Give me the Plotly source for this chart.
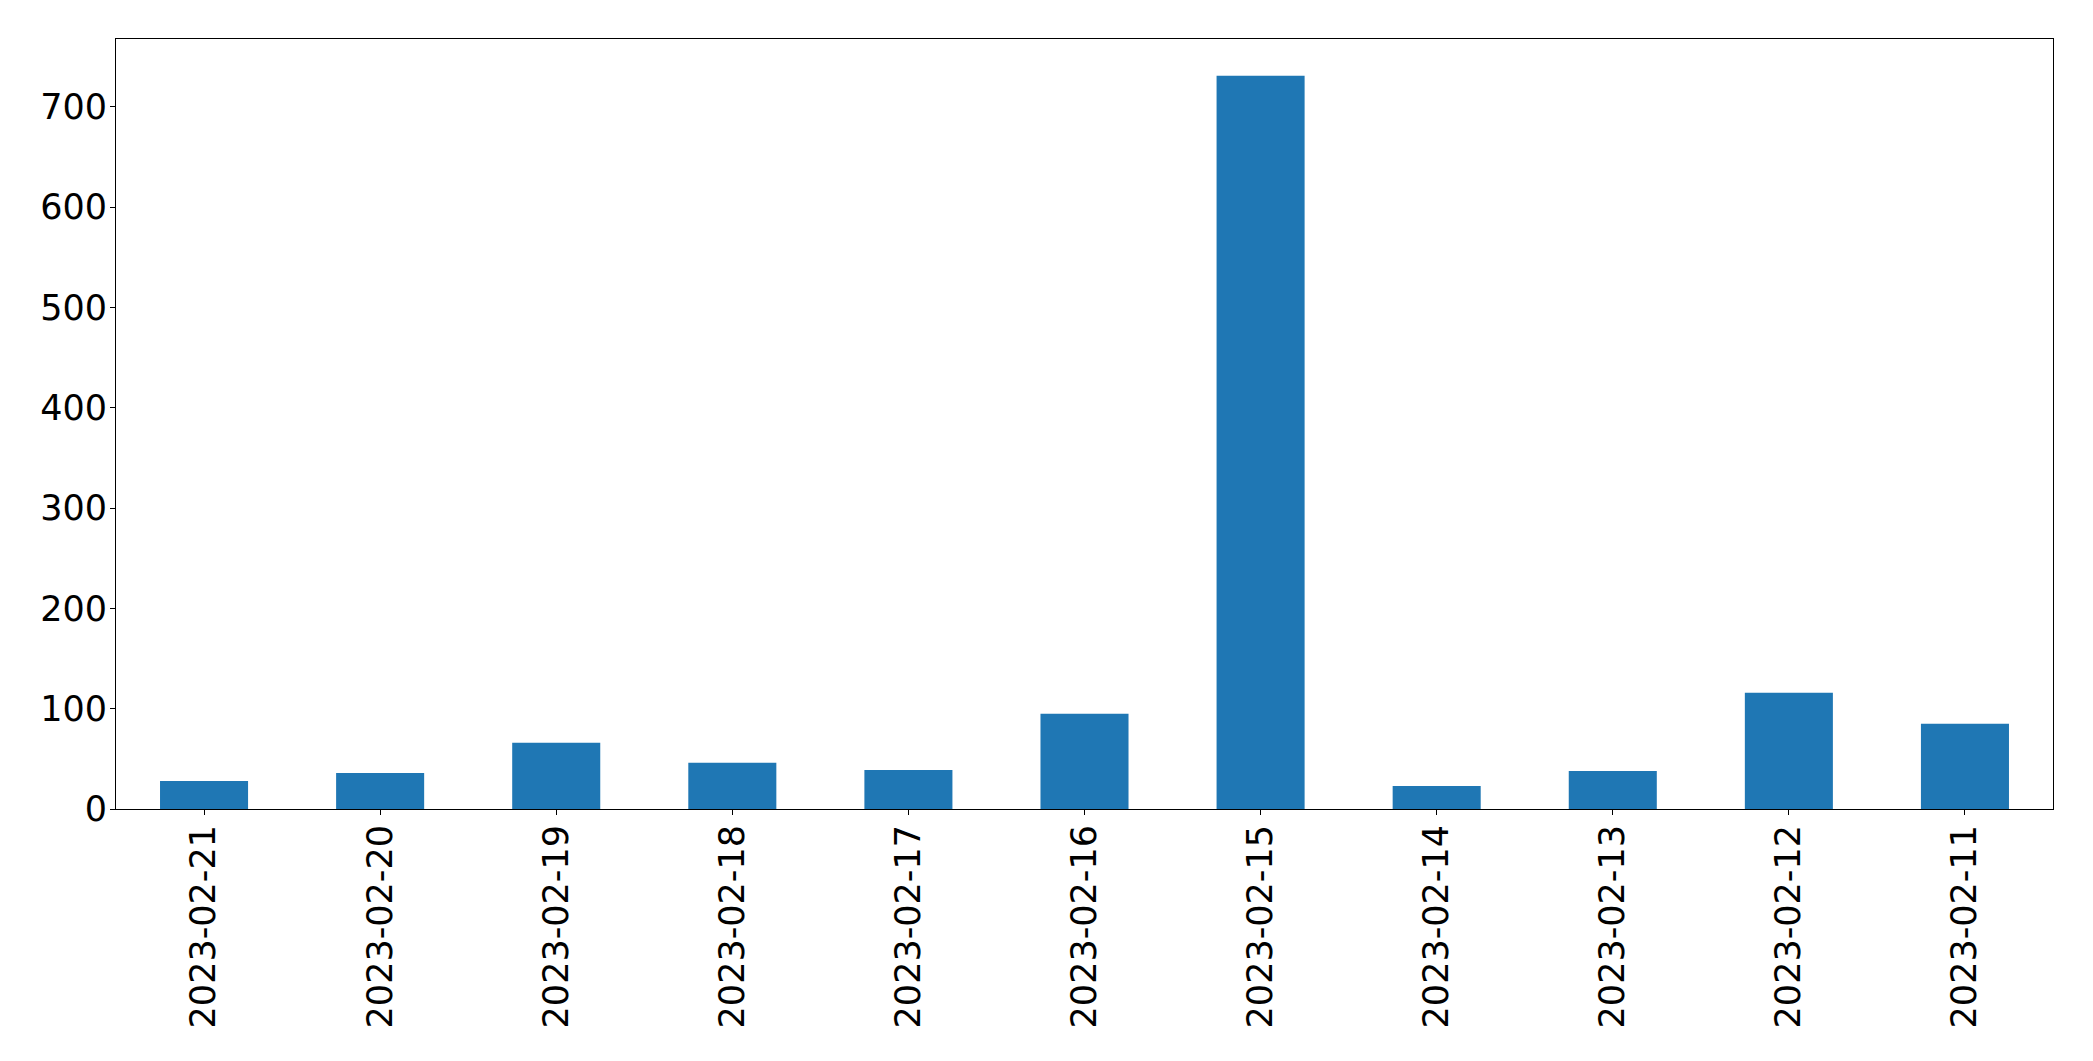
import plotly.graph_objects as go

dates = ["2023-02-21", "2023-02-20", "2023-02-19", "2023-02-18", "2023-02-17",
         "2023-02-16", "2023-02-15", "2023-02-14", "2023-02-13", "2023-02-12", "2023-02-11"]
counts = [28, 36, 66, 46, 39, 95, 731, 23, 38, 116, 85]
y_ticks = [0, 100, 200, 300, 400, 500, 600, 700]

fig = go.Figure(go.Bar(x=dates, y=counts, marker=dict(color="#1f77b4", line=dict(width=0)),
                       width=0.5))

font = dict(family="DejaVu Sans", size=35, color="black")
fig.update_layout(
    width=2093, height=1061,
    margin=dict(l=108, r=48, t=31, b=260, pad=0),
    plot_bgcolor="white", paper_bgcolor="white",
    showlegend=False,
    font=font,
)
fig.update_xaxes(type="category", range=[-0.5, 10.5], showline=True, linecolor="black",
                 linewidth=1, mirror=True, ticks="outside", ticklen=5, tickcolor="black",
                 tickangle=-90, showgrid=False, tickfont=font, ticklabelstandoff=-4)
fig.update_yaxes(range=[0, max(counts) * 1.05], tickvals=y_ticks, showline=True,
                 linecolor="black", linewidth=1, mirror=True, ticks="outside", ticklen=5,
                 tickcolor="black", showgrid=False, zeroline=False, tickfont=font,
                 ticklabelstandoff=-4)

fig.write_html("out.html", config={"displayModeBar": False})
